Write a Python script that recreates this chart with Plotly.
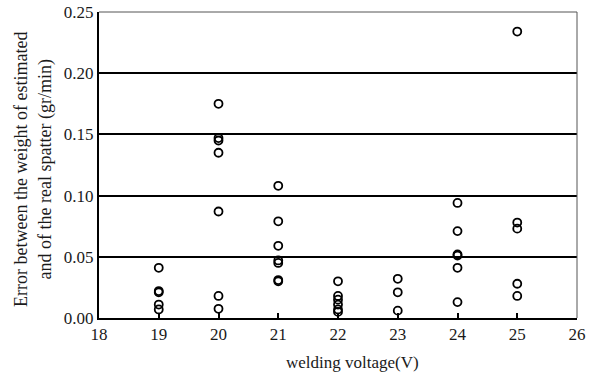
import plotly.graph_objects as go

v19 = [0.041, 0.022, 0.021, 0.011, 0.007]
v20 = [0.175, 0.147, 0.145, 0.135, 0.087, 0.018, 0.0075]
v21 = [0.108, 0.079, 0.059, 0.047, 0.045, 0.031, 0.030]
v22 = [0.030, 0.018, 0.015, 0.011, 0.007, 0.005]
v23 = [0.032, 0.021, 0.006]
v24 = [0.094, 0.071, 0.052, 0.051, 0.041, 0.013]
v25 = [0.234, 0.078, 0.073, 0.028, 0.018]
voltages = [19, 20, 21, 22, 23, 24, 25]
groups = [v19, v20, v21, v22, v23, v24, v25]

xs, ys = [], []
for v, g in zip(voltages, groups):
    xs += [v] * len(g)
    ys += g

font = "Liberation Serif"
fig = go.Figure()
fig.add_trace(go.Scatter(
    x=xs, y=ys, mode="markers",
    marker=dict(symbol="circle-open", size=8, color="black", line=dict(width=1.8, color="black")),
    showlegend=False, cliponaxis=False))

fig.update_layout(
    width=595, height=373,
    margin=dict(l=99, r=18, t=12, b=55, autoexpand=False),
    paper_bgcolor="white", plot_bgcolor="white",
    font=dict(family=font, size=17, color="#1a1a1a"),
    xaxis=dict(range=[18, 26], dtick=1, tick0=18, showgrid=False, zeroline=False,
               showline=True, linecolor="black", linewidth=2, mirror=False,
               ticks="inside", ticklen=5, tickwidth=1.5, tickcolor="black",
               tickfont=dict(size=17), automargin=False),
    yaxis=dict(range=[0, 0.25], dtick=0.05, tickformat=".2f", showgrid=True,
               gridcolor="black", gridwidth=1.8, zeroline=False,
               showline=True, linecolor="black", linewidth=2,
               ticks="", ticklen=0, tickfont=dict(size=17), automargin=False),
    annotations=[
        dict(text="Error between the weight of estimated<br>and of the real spatter (gr/min)",
             xref="paper", yref="paper", x=-0.138, y=0.484, textangle=-90,
             showarrow=False, font=dict(size=18, family=font), xanchor="center", yanchor="middle"),
        dict(text="welding voltage(V)", xref="paper", yref="paper", x=0.531, y=-0.144,
             showarrow=False, font=dict(size=17, family=font), xanchor="center", yanchor="middle"),
    ],
)
fig.add_shape(type="line", xref="paper", yref="paper", x0=0, x1=1, y0=1, y1=1,
              line=dict(color="#555", width=1))
fig.add_shape(type="line", xref="paper", yref="paper", x0=1, x1=1, y0=0, y1=1,
              line=dict(color="#555", width=1))

fig.write_html("out.html")
